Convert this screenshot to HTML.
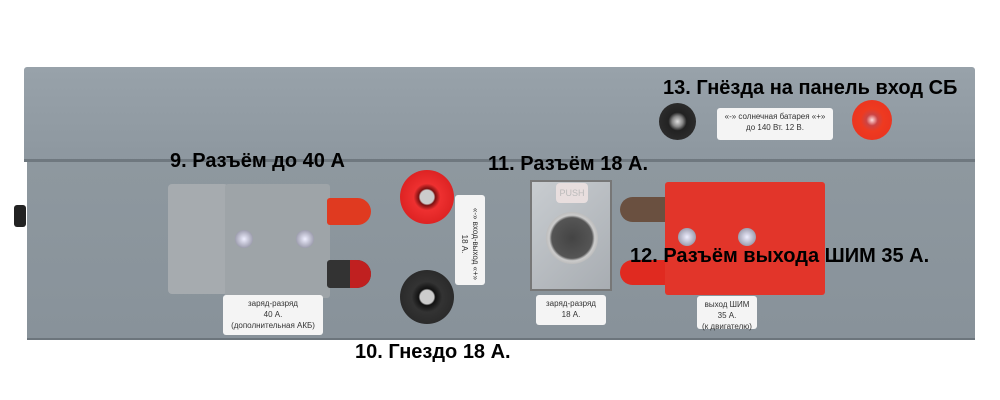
<!DOCTYPE html>
<html><head><meta charset="utf-8"><style>
body{margin:0;width:1000px;height:400px;background:#fff;position:relative;overflow:hidden;font-family:"Liberation Sans",sans-serif}
div{position:absolute;box-sizing:border-box}
.t{font-weight:bold;font-size:20px;color:#000;white-space:nowrap;line-height:24px}
.lab{background:#f4f4f4;border-radius:3px;font-size:8px;color:#333;text-align:center;line-height:11px;padding-top:3px}
.scr{width:18px;height:18px;border-radius:50%;background:radial-gradient(circle,#eef 0,#aab 60%,#778 100%)}
</style></head><body>
<div style="left:24px;top:67px;width:951px;height:95px;background:linear-gradient(#98a2aa,#8d979f);border-radius:3px 3px 0 0"></div>
<div style="left:24px;top:159px;width:951px;height:3px;background:#6f787f"></div>
<div style="left:27px;top:162px;width:948px;height:178px;background:linear-gradient(#8e989f,#88929a);border-bottom:2px solid #6c757c"></div>
<div style="left:14px;top:205px;width:12px;height:22px;background:#222;border-radius:3px"></div>
<!-- gray connector -->
<div style="left:168px;top:184px;width:60px;height:110px;background:#a6abaf;border-radius:4px"></div>
<div style="left:225px;top:184px;width:105px;height:114px;background:#9ea4a8;border-radius:3px"></div>
<div style="left:327px;top:198px;width:44px;height:27px;background:#e03a20;border-radius:3px 14px 14px 3px"></div>
<div style="left:327px;top:260px;width:44px;height:28px;background:#333;border-radius:3px 14px 14px 3px"></div>
<div style="left:350px;top:260px;width:21px;height:28px;background:#c02020;border-radius:0 14px 14px 0"></div>
<div class="scr" style="left:235px;top:230px"></div><div class="scr" style="left:296px;top:230px"></div>
<div class="lab" style="left:223px;top:295px;width:100px;height:40px">заряд-разряд<br>40 А.<br>(дополнительная АКБ)</div>
<!-- terminals -->
<div style="left:400px;top:170px;width:54px;height:54px;border-radius:50%;background:radial-gradient(circle,#ccc 0,#ccc 18%,#7a1010 22%,#ee3030 35%,#d01818 100%)"></div>
<div style="left:400px;top:270px;width:54px;height:54px;border-radius:50%;background:radial-gradient(circle,#ccc 0,#ccc 18%,#111 22%,#333 40%,#222 100%)"></div>
<div class="lab" style="left:455px;top:195px;width:30px;height:90px;padding:0"><div style="left:-30px;top:38px;width:90px;transform:rotate(90deg);font-size:8px;line-height:11px">«-» вход-выход «+»<br>18 А.</div></div>
<!-- XLR -->
<div style="left:530px;top:180px;width:82px;height:111px;background:linear-gradient(135deg,#c8ccd0,#a8adb2);border:2px solid #777"></div>
<div style="left:546px;top:212px;width:52px;height:52px;border-radius:50%;background:radial-gradient(circle,#444 0,#555 55%,#ccc 62%,#888 100%)"></div>
<div style="left:556px;top:183px;width:32px;height:20px;background:#e8dede;border-radius:4px;font-size:9px;color:#bbb;text-align:center;line-height:20px">PUSH</div>
<div class="lab" style="left:536px;top:295px;width:70px;height:30px">заряд-разряд<br>18 А.</div>
<!-- red connector -->
<div style="left:620px;top:197px;width:48px;height:25px;background:#6a5040;border-radius:14px 3px 3px 14px"></div>
<div style="left:620px;top:260px;width:48px;height:25px;background:#e02a20;border-radius:14px 3px 3px 14px"></div>
<div style="left:665px;top:182px;width:160px;height:113px;background:#e2352a;border-radius:3px"></div>
<div class="scr" style="left:678px;top:228px"></div><div class="scr" style="left:738px;top:228px"></div>
<div class="lab" style="left:697px;top:296px;width:60px;height:33px">выход ШИМ<br>35 А.<br>(к двигателю)</div>
<!-- top sockets -->
<div style="left:659px;top:103px;width:37px;height:37px;border-radius:50%;background:radial-gradient(circle,#ddd 0,#888 20%,#222 35%,#333 100%)"></div>
<div style="left:852px;top:100px;width:40px;height:40px;border-radius:50%;background:radial-gradient(circle,#fdd 0,#c44 20%,#ee3a20 40%,#e83020 100%)"></div>
<div class="lab" style="left:717px;top:108px;width:116px;height:32px">«-» солнечная батарея «+»<br>до 140 Вт. 12 В.</div>
<!-- titles -->
<div class="t" style="left:170px;top:149px">9. Разъём до 40 А</div>
<div class="t" style="left:355px;top:340px">10. Гнездо 18 А.</div>
<div class="t" style="left:488px;top:152px">11. Разъём 18 А.</div>
<div class="t" style="left:630px;top:244px">12. Разъём выхода ШИМ 35 А.</div>
<div class="t" style="left:663px;top:76px">13. Гнёзда на панель вход СБ</div>
</body></html>
